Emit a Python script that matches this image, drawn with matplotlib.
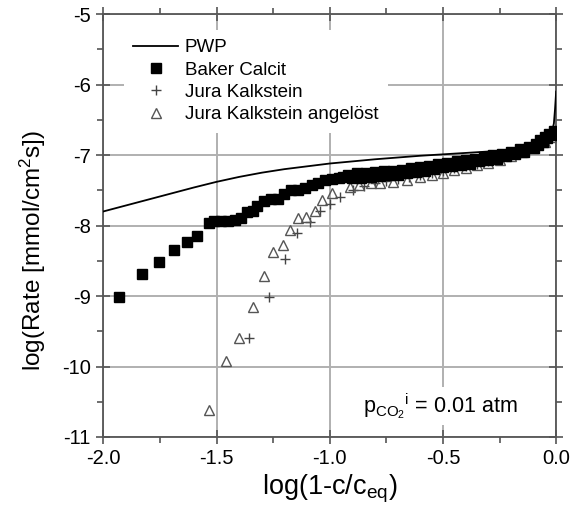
# Rate vs. undersaturation chart

import numpy as np
import matplotlib.pyplot as plt
from matplotlib.ticker import MultipleLocator

plt.rcParams['font.family'] = ['Liberation Sans', 'DejaVu Sans']
plt.rcParams['mathtext.fontset'] = 'custom'
plt.rcParams['mathtext.rm'] = 'Liberation Sans'
plt.rcParams['mathtext.it'] = 'Liberation Sans:italic'

# Data
pwp_x = [-2.0, -1.8, -1.6, -1.5, -1.4, -1.3, -1.2, -1.0, -0.8, -0.6, -0.4, -0.3,
         -0.2, -0.1, -0.05, -0.02, -0.01, -0.005, 0.0]
pwp_y = [-7.80, -7.63, -7.46, -7.38, -7.31, -7.25, -7.20, -7.12, -7.06, -7.01, -6.97, -6.95,
         -6.93, -6.88, -6.82, -6.70, -6.55, -6.35, -6.10]

baker_x = [-1.93, -1.83, -1.755, -1.69, -1.63, -1.585, -1.535, -1.51, -1.48, -1.45, -1.42, -1.39,
           -1.365, -1.34, -1.32, -1.29, -1.26, -1.23, -1.20, -1.17, -1.14, -1.11, -1.08, -1.05,
           -1.02, -0.99, -0.96, -0.94,
           -0.92, -0.90, -0.88, -0.86, -0.84, -0.82, -0.80, -0.78, -0.76, -0.74, -0.72, -0.70,
           -0.68, -0.66, -0.64, -0.62, -0.60, -0.58, -0.56, -0.54, -0.52, -0.50, -0.48, -0.46,
           -0.44, -0.42, -0.40, -0.38, -0.36, -0.34, -0.32, -0.30, -0.28, -0.26, -0.24, -0.22,
           -0.20, -0.18, -0.16, -0.14, -0.12, -0.10, -0.09, -0.08, -0.07, -0.06, -0.05, -0.04,
           -0.03, -0.02, -0.01, -0.005]
baker_y = [-9.01, -8.69, -8.52, -8.35, -8.24, -8.15, -7.97, -7.94, -7.93, -7.93, -7.92, -7.90,
           -7.81, -7.79, -7.72, -7.65, -7.63, -7.62, -7.55, -7.50, -7.49, -7.47, -7.42, -7.40,
           -7.36, -7.34, -7.33, -7.31,
           -7.28, -7.33, -7.26, -7.32, -7.25, -7.31, -7.24, -7.30, -7.23, -7.29, -7.22, -7.28,
           -7.21, -7.26, -7.19, -7.24, -7.17, -7.22, -7.15, -7.20, -7.13, -7.17, -7.11, -7.16,
           -7.09, -7.14, -7.07, -7.12, -7.05, -7.09, -7.03, -7.07, -7.00, -7.05, -6.98, -7.02,
           -6.95, -6.99, -6.92, -6.95, -6.88, -6.90, -6.84, -6.86, -6.79, -6.81, -6.75, -6.76,
           -6.70, -6.72, -6.66, -6.67]

jura_x = [-1.355, -1.267, -1.196, -1.143, -1.087, -1.043, -1.0, -0.955, -0.898, -0.85, -0.80,
          -0.75, -0.70, -0.65, -0.60, -0.55, -0.50, -0.45, -0.40, -0.35, -0.30, -0.25, -0.20,
          -0.15, -0.10, -0.05, -0.02]
jura_y = [-9.60, -9.02, -8.47, -8.11, -7.95, -7.80, -7.69, -7.59, -7.50, -7.44, -7.40,
          -7.37, -7.34, -7.31, -7.28, -7.25, -7.22, -7.18, -7.15, -7.12, -7.08, -7.04, -6.99,
          -6.93, -6.87, -6.79, -6.72]

angel_x = [-1.532, -1.458, -1.40, -1.34, -1.29, -1.25, -1.205, -1.176, -1.139, -1.105, -1.065,
           -1.036, -0.99, -0.91, -0.87, -0.82, -0.78, -0.72, -0.66, -0.60, -0.55, -0.50, -0.45,
           -0.40, -0.35, -0.30, -0.25, -0.20, -0.15, -0.10, -0.05, -0.02]
angel_y = [-10.62, -9.92, -9.60, -9.16, -8.72, -8.37, -8.28, -8.07, -7.90, -7.88, -7.80,
           -7.64, -7.54, -7.45, -7.42, -7.40, -7.40, -7.38, -7.35, -7.31, -7.28, -7.25, -7.21,
           -7.18, -7.14, -7.11, -7.07, -7.02, -6.96, -6.90, -6.82, -6.74]

fig = plt.figure(figsize=(5.71, 5.12), dpi=100)
ax = fig.add_axes([0.181, 0.1465, 0.793, 0.826])

ax.plot(pwp_x, pwp_y, color='black', lw=1.3, label='PWP', zorder=5)
ax.plot(baker_x, baker_y, ls='none', marker='s', ms=7.2, color='black', label='Baker Calcit', zorder=4)
ax.plot(jura_x, jura_y, ls='none', marker='+', ms=7, mew=1.0, color='#444444',
        label='Jura Kalkstein', zorder=3)
ax.plot(angel_x, angel_y, ls='none', marker='^', ms=6.5, mfc='none', mec='#555555', mew=1.0,
        label='Jura Kalkstein angelöst', zorder=3)

ax.set_xlim(-2.0, 0.0)
ax.set_ylim(-11, -5)
ax.xaxis.set_minor_locator(MultipleLocator(0.25))
ax.yaxis.set_minor_locator(MultipleLocator(0.5))
ax.set_xticks([-2.0, -1.5, -1.0, -0.5, 0.0])
ax.set_xticklabels(['-2.0', '-1.5', '-1.0', '-0.5', '0.0'])
ax.set_yticks([-11, -10, -9, -8, -7, -6, -5])
ax.set_yticklabels(['-11', '-10', '-9', '-8', '-7', '-6', '-5'])

ax.grid(True, which='major', color='#b0b0b0', lw=1.4, zorder=0)
ax.set_axisbelow(True)
for s in ax.spines.values():
    s.set_color('#555555')
    s.set_linewidth(1.3)
ax.tick_params(which='major', direction='inout', length=10, width=1.2, color='#555555',
               labelsize=14.5, pad=4)
ax.tick_params(which='minor', direction='out', length=4, width=1.2, color='#555555')
ax.tick_params(which='both', axis='x', top=True)
ax.tick_params(which='both', axis='y', right=True)

ax.set_xlabel(r'log(1-c/c$_{\mathrm{eq}}$)', fontsize=19.5, labelpad=3)
ax.set_ylabel(r'log(Rate [mmol/cm$^{\mathrm{2}}$s])', fontsize=17.5)
ax.yaxis.set_label_coords(-0.122, 0.442)

leg = ax.legend(loc='upper left', fontsize=13.5, frameon=True, fancybox=False,
                handlelength=2.4, handletextpad=0.35, labelspacing=0.28,
                borderpad=0.5, bbox_to_anchor=(0.025, 0.985))
leg.get_frame().set_edgecolor('none')
leg.get_frame().set_facecolor('white')
leg.get_frame().set_alpha(1)

ax.text(-0.853, -10.66, r'p$_{\mathrm{CO_2}}{}^{\mathrm{i}}$ = 0.01 atm', fontsize=15.5,
        bbox=dict(facecolor='white', edgecolor='none', pad=3), zorder=6)

fig.savefig('out.png', dpi=100)
